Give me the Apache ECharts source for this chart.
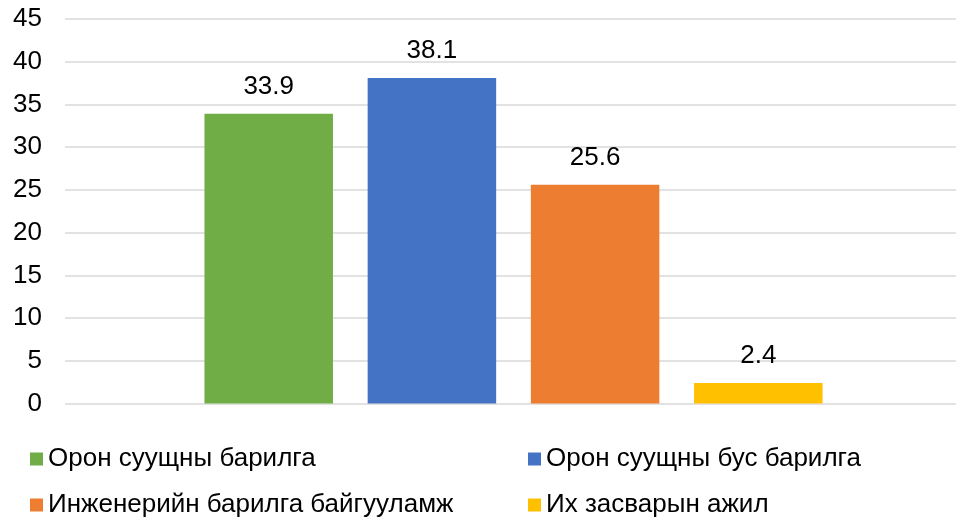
<!DOCTYPE html>
<html>
<head>
<meta charset="utf-8">
<script src="https://cdn.jsdelivr.net/npm/echarts@6/dist/echarts.min.js"></script>
<style>
html,body{margin:0;padding:0;background:#fff;}
#chart{width:956px;height:522px;}
</style>
</head>
<body>
<div id="chart"></div>
<script>
const categories = [''];
const seriesNames = ['Орон суущны барилга', 'Орон суущны бус барилга', 'Инженерийн барилга байгууламж', 'Их засварын ажил'];
const seriesValues = [[33.9], [38.1], [25.6], [2.4]];
const seriesColors = ['#70AD47', '#4472C4', '#ED7D31', '#FFC000'];
const yTicks = { min: 0, max: 45, interval: 5 };

const FONT = 'Liberation Sans, Arial, sans-serif';
const chart = echarts.init(document.getElementById('chart'), null, { renderer: 'canvas' });

const legendPos = [
  { left: 30, top: 446 },
  { left: 528, top: 446 },
  { left: 30, top: 492 },
  { left: 528, top: 492 }
];

chart.setOption({
  animation: false,
  backgroundColor: '#ffffff',
  textStyle: { fontFamily: FONT },
  grid: [
    { left: 65, right: 0, top: 19, bottom: 118.5, containLabel: false },
    { left: 71, right: 0, top: 19, bottom: 118.5, containLabel: false }
  ],
  legend: seriesNames.map((n, i) => ({
    data: [n],
    left: legendPos[i].left,
    top: legendPos[i].top,
    padding: 0,
    icon: 'rect',
    itemWidth: 13,
    itemHeight: 13,
    textStyle: { fontSize: 26, color: '#000', fontFamily: FONT, padding: [0, 0, 0, 0] }
  })),
  xAxis: [
    { type: 'category', gridIndex: 0, data: categories, axisLine: { show: false }, axisTick: { show: false }, axisLabel: { show: false } },
    { type: 'category', gridIndex: 1, data: categories, axisLine: { show: false }, axisTick: { show: false }, axisLabel: { show: false } }
  ],
  yAxis: [
    {
      type: 'value',
      gridIndex: 0,
      min: yTicks.min,
      max: yTicks.max,
      interval: yTicks.interval,
      axisLine: { show: false },
      axisTick: { show: false },
      axisLabel: { fontSize: 26, color: '#000', margin: 23, fontFamily: FONT },
      splitLine: { lineStyle: { color: '#D9D9D9', width: 1.5 } }
    },
    {
      type: 'value',
      gridIndex: 1,
      min: yTicks.min,
      max: yTicks.max,
      interval: yTicks.interval,
      axisLine: { show: false },
      axisTick: { show: false },
      axisLabel: { show: false },
      splitLine: { show: false }
    }
  ],
  series: seriesNames.map((n, i) => ({
    name: n,
    type: 'bar',
    xAxisIndex: 1,
    yAxisIndex: 1,
    data: seriesValues[i],
    barWidth: 128.5,
    barGap: '27%',
    itemStyle: { color: seriesColors[i] },
    label: {
      show: true,
      position: 'top',
      distance: 14,
      fontSize: 26,
      color: '#000',
      fontFamily: FONT,
      formatter: (p) => p.value.toFixed(1)
    }
  }))
});
</script>
</body>
</html>
